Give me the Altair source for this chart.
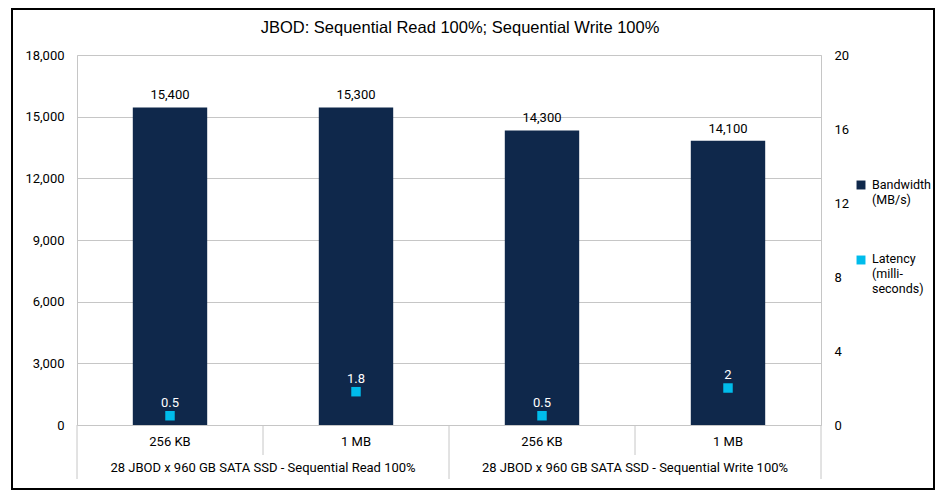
import altair as alt
import pandas as pd

# ---- data ----
categories = ["256 KB", "1 MB", "256 KB", "1 MB"]
groups = ["28 JBOD x 960 GB SATA SSD - Sequential Read 100%",
          "28 JBOD x 960 GB SATA SSD - Sequential Write 100%"]
bandwidth = [15450, 15450, 14330, 13830]
bandwidth_labels = ["15,400", "15,300", "14,300", "14,100"]
latency = [0.5, 1.8, 0.5, 2]
latency_labels = ["0.5", "1.8", "0.5", "2"]
legend_names = ["Bandwidth\n(MB/s)", "Latency\n(milli-\nseconds)"]
left_ticks = [0, 3000, 6000, 9000, 12000, 15000, 18000]
right_ticks = [0, 4, 8, 12, 16, 20]
title_text = "JBOD: Sequential Read 100%; Sequential Write 100%"

NAVY = "#0F284B"
CYAN = "#00BCEB"
GRID = "#c6c6c6"
FONT = "Roboto"
FS = 13
LFS = 12.5

df = pd.DataFrame({
    "pos": [i + 0.5 for i in range(len(categories))],
    "cat": categories,
    "bw": bandwidth,
    "bwl": bandwidth_labels,
    "lat": latency,
    "latl": latency_labels,
})
gdf = pd.DataFrame({"gpos": [1.0, 3.0], "group": groups})
long_div = pd.DataFrame({"b": [0, 2, 4]})
short_div = pd.DataFrame({"b": [1, 3]})

W, H = 744, 370
xs = alt.Scale(domain=[0, 4], nice=False, zero=False, padding=0)
X = alt.X("pos:Q", scale=xs, axis=None)
yl = alt.Scale(domain=[0, 18000], nice=False, padding=0)
yr = alt.Scale(domain=[0, 20], nice=False, padding=0)

border = alt.Chart(pd.DataFrame({"a": [0]})).mark_rect(
    fillOpacity=0, stroke="black", strokeWidth=2
).encode(x=alt.value(-65), x2=alt.value(857), y=alt.value(-46), y2=alt.value(434))

title_mark = alt.Chart(pd.DataFrame({"t": [title_text]})).mark_text(
    align="center", baseline="middle", font="Liberation Sans", fontSize=16.5,
    color="black"
).encode(x=alt.value(383), y=alt.value(-27), text="t:N")

bars = alt.Chart(df).mark_bar(size=74.4, color=NAVY).encode(
    x=X,
    y=alt.Y("bw:Q", scale=yl, axis=alt.Axis(
        orient="left", values=left_ticks, format=",.0f", grid=True, domain=False,
        ticks=False, labelPadding=13, title=None)),
)
bar_text = alt.Chart(df).mark_text(
    baseline="alphabetic", dy=-8, fontSize=FS, font=FONT, color="black"
).encode(x=X, y=alt.Y("bw:Q", scale=yl, axis=None), text="bwl:N")

squares = alt.Chart(df).mark_square(size=90, color=CYAN, opacity=1).encode(
    x=X,
    y=alt.Y("lat:Q", scale=yr, axis=alt.Axis(
        orient="right", values=right_ticks, grid=False, domain=False,
        ticks=False, labelPadding=13, title=None)),
)
lat_text = alt.Chart(df).mark_text(
    baseline="alphabetic", dy=-9, fontSize=FS, font=FONT, color="white"
).encode(x=X, y=alt.Y("lat:Q", scale=yr, axis=None), text="latl:N")

cat_text = alt.Chart(df).mark_text(
    baseline="middle", fontSize=FS, font=FONT, color="black"
).encode(x=X, y=alt.value(387), text="cat:N")
group_text = alt.Chart(gdf).mark_text(
    baseline="middle", fontSize=FS, font=FONT, color="black"
).encode(x=alt.X("gpos:Q", scale=xs, axis=None), y=alt.value(413), text="group:N")

long_rules = alt.Chart(long_div).mark_rule(color=GRID, strokeWidth=1).encode(
    x=alt.X("b:Q", scale=xs, axis=None), y=alt.value(H), y2=alt.value(424))
short_rules = alt.Chart(short_div).mark_rule(color=GRID, strokeWidth=1).encode(
    x=alt.X("b:Q", scale=xs, axis=None), y=alt.value(H), y2=alt.value(400))

leg_sq1 = alt.Chart(pd.DataFrame({"n": [legend_names[0]]})).mark_square(
    size=80, color=NAVY, opacity=1).encode(x=alt.value(784), y=alt.value(130))
leg_sq2 = alt.Chart(pd.DataFrame({"n": [legend_names[1]]})).mark_square(
    size=80, color=CYAN, opacity=1).encode(x=alt.value(784), y=alt.value(205))
leg_t1 = alt.Chart(pd.DataFrame({"n": [legend_names[0]]})).mark_text(
    align="left", baseline="top", lineBreak="\n", lineHeight=15,
    fontSize=LFS, font=FONT, color="black"
).encode(x=alt.value(795), y=alt.value(124), text="n:N")
leg_t2 = alt.Chart(pd.DataFrame({"n": [legend_names[1]]})).mark_text(
    align="left", baseline="top", lineBreak="\n", lineHeight=15,
    fontSize=LFS, font=FONT, color="black"
).encode(x=alt.value(795), y=alt.value(198), text="n:N")

chart = alt.layer(
    border, title_mark, long_rules, short_rules, bars, bar_text, squares, lat_text,
    cat_text, group_text, leg_sq1, leg_sq2, leg_t1, leg_t2
).resolve_scale(y="independent").properties(
    width=W, height=H,
    padding={"left": 69, "top": 47, "right": 114, "bottom": 67},
    autosize=alt.AutoSizeParams(type="none"),
    background="white",
).configure_view(stroke=GRID, strokeWidth=1).configure_axis(
    labelFont=FONT, labelFontSize=FS, labelColor="black", gridColor=GRID
)

chart.save("out.html", embed_options={"renderer": "svg", "actions": False})
